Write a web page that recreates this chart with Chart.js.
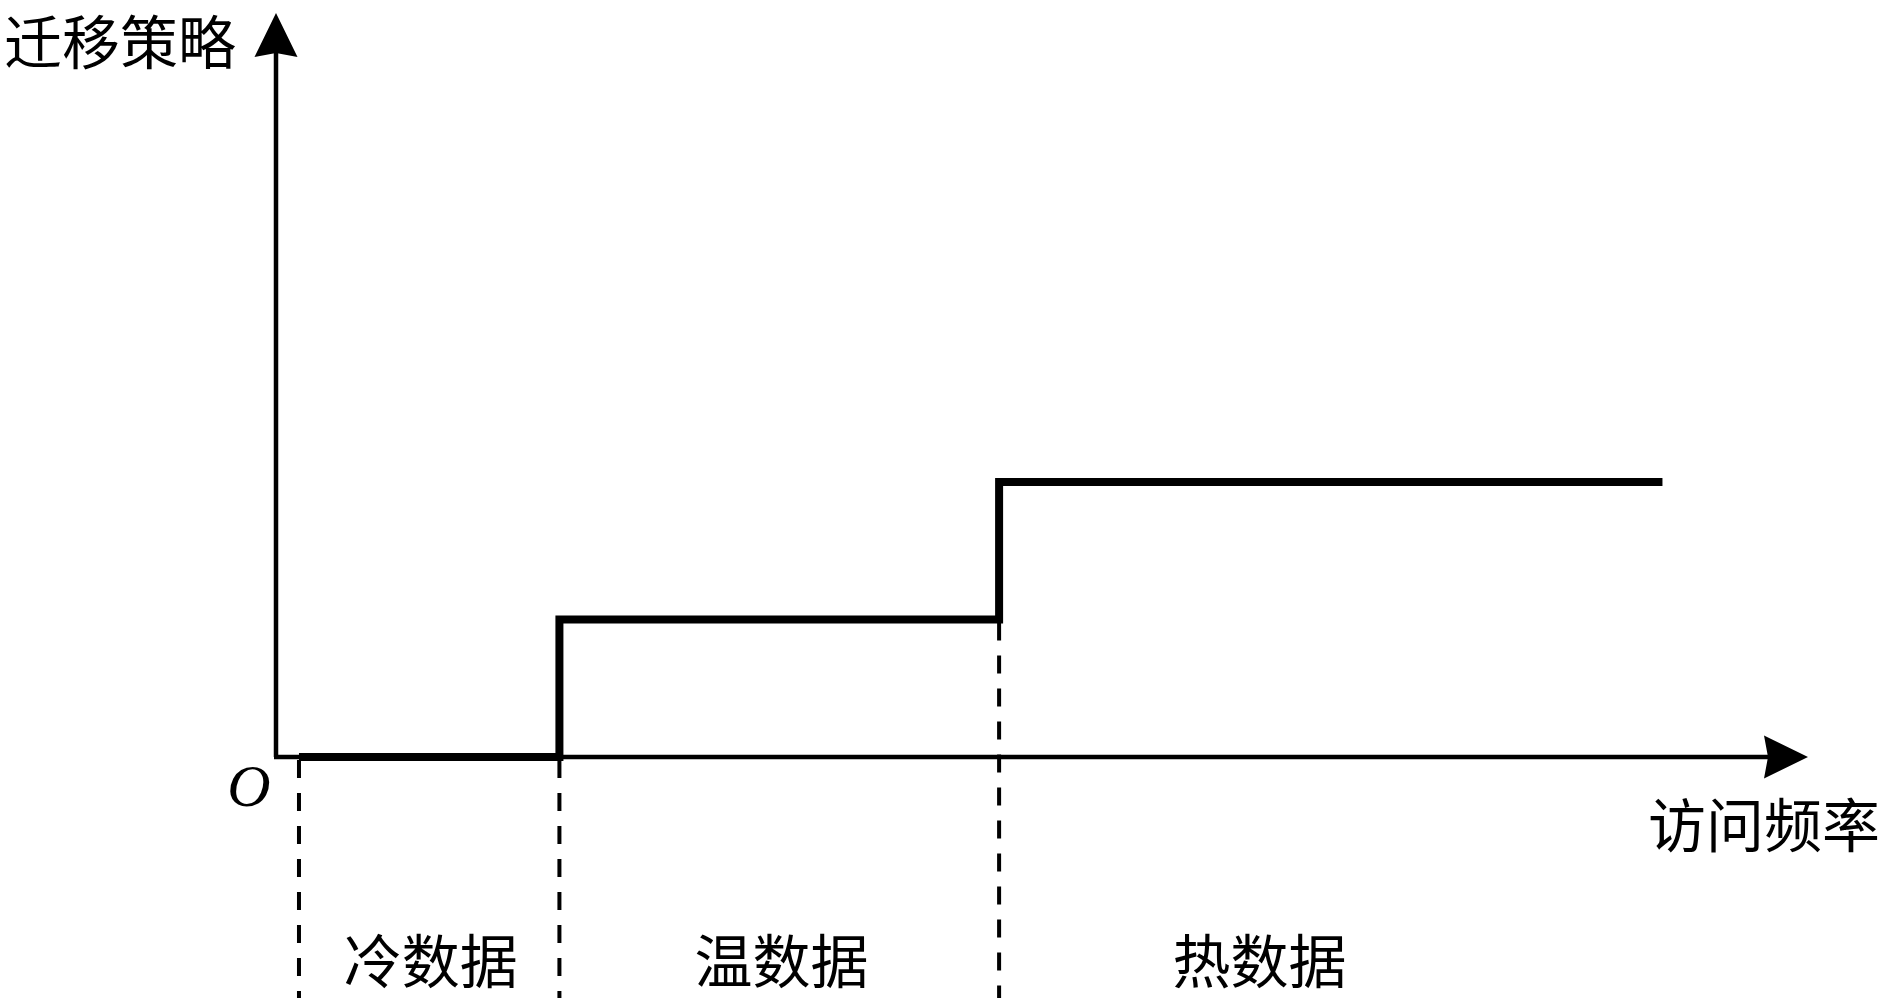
<!DOCTYPE html>
<html>
<head>
<meta charset="utf-8">
<script src="https://cdn.jsdelivr.net/npm/chart.js@4.4.1/dist/chart.umd.min.js"></script>
<style>
html,body{margin:0;padding:0;background:#fff;}
canvas{display:block;}
</style>
</head>
<body>
<canvas id="c" width="1884" height="998"></canvas>
<script>
// ---- data (arbitrary units) ----
const categories = ['冷数据', '温数据', '热数据'];
const boundaries = [0.15, 1.85, 4.72];   // access-frequency thresholds where each class begins
const levels = [0, 1, 2];                // migration strategy level per class
const endX = 9.05;                       // end of the step curve
const labelX = [1.01, 3.30, 6.42];       // category label centres (x units)
const xMax = 10;                         // x axis length
const yMax = 5.41;                       // y axis length
const xTitle = '访问频率';
const yTitle = '迁移策略';
const originLabel = 'O';

// step curve: horizontal at each level up to the next threshold, then vertical
const stepPoints = [{x: boundaries[0], y: levels[0]}];
for (let i = 1; i < boundaries.length; i++) stepPoints.push({x: boundaries[i], y: levels[i]});
stepPoints.push({x: endX, y: levels[levels.length - 1]});

const CJK = '"Noto Sans CJK SC", "Noto Sans", sans-serif';

function arrow(ctx, tipX, tipY, dirX, dirY) {
  const len = 44, half = 21.5, notch = 4;
  const px = -dirY, py = dirX;
  const bx = tipX - dirX * len, by = tipY - dirY * len;
  ctx.beginPath();
  ctx.moveTo(tipX, tipY);
  ctx.lineTo(bx + px * half, by + py * half);
  ctx.lineTo(tipX - dirX * (len - notch), tipY - dirY * (len - notch));
  ctx.lineTo(bx - px * half, by - py * half);
  ctx.closePath();
  ctx.fill();
}

const decor = {
  id: 'decor',
  beforeDatasetsDraw(chart) {
    const ctx = chart.ctx;
    const xs = chart.scales.x, ys = chart.scales.y;
    const x0 = xs.getPixelForValue(0), y0 = ys.getPixelForValue(0);
    const xEnd = xs.getPixelForValue(xMax), yTop = ys.getPixelForValue(yMax);
    ctx.save();
    ctx.strokeStyle = '#000';
    ctx.fillStyle = '#000';
    // dashed guides
    ctx.lineWidth = 4;
    ctx.setLineDash([18, 15]);
    boundaries.forEach((b, i) => {
      const lvl = i === 0 ? 0 : levels[i - 1];
      const px = xs.getPixelForValue(b);
      ctx.beginPath();
      ctx.moveTo(px, ys.getPixelForValue(lvl) + 3);
      ctx.lineTo(px, chart.height);
      ctx.stroke();
    });
    ctx.setLineDash([]);
    // axes
    ctx.lineWidth = 4.5;
    ctx.beginPath();
    ctx.moveTo(x0, y0);
    ctx.lineTo(x0, yTop + 30);
    ctx.moveTo(x0 - 2, y0);
    ctx.lineTo(xEnd - 30, y0);
    ctx.stroke();
    arrow(ctx, x0, yTop, 0, -1);
    arrow(ctx, xEnd, y0, 1, 0);
    // texts
    ctx.font = '58px ' + CJK;
    ctx.textBaseline = 'middle';
    ctx.textAlign = 'right';
    ctx.fillText(yTitle, x0 - 40, yTop + 29);
    ctx.fillText(xTitle, chart.width - 4, y0 + 68);
    ctx.textAlign = 'center';
    categories.forEach((c, i) => {
      ctx.fillText(c, xs.getPixelForValue(labelX[i]), y0 + 204);
    });
    ctx.font = 'italic 60px "Liberation Serif", "DejaVu Serif", serif';
    ctx.fillText(originLabel, x0 - 27, y0 + 33);
    ctx.restore();
  }
};

new Chart(document.getElementById('c'), {
  type: 'scatter',
  data: {
    datasets: [{
      data: stepPoints,
      showLine: true,
      stepped: 'before',
      borderColor: '#000',
      borderWidth: 8,
      pointRadius: 0,
      fill: false,
      clip: false,
      borderCapStyle: 'butt',
      borderJoinStyle: 'miter'
    }]
  },
  options: {
    responsive: false,
    animation: false,
    events: [],
    layout: {padding: {left: 276, right: 76, top: 13, bottom: 241}},
    plugins: {legend: {display: false}, tooltip: {enabled: false}},
    scales: {
      x: {type: 'linear', min: 0, max: xMax, display: false},
      y: {type: 'linear', min: 0, max: yMax, display: false}
    }
  },
  plugins: [decor]
});
</script>
</body>
</html>
